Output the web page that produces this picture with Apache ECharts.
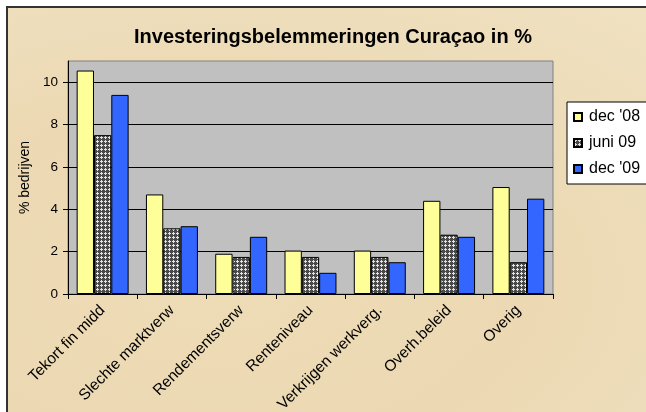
<!DOCTYPE html>
<html>
<head>
<meta charset="utf-8">
<script src="https://cdn.jsdelivr.net/npm/echarts@6/dist/echarts.min.js"></script>
<style>
html,body{margin:0;padding:0;background:#fff;overflow:hidden;width:646px;height:412px;}
#wrap{position:absolute;left:0;top:0;width:646px;height:412px;overflow:hidden;background:#fff;}
#frame{position:absolute;left:6px;top:6px;width:700px;height:460px;border-left:2px solid #333;border-top:2px solid #333;
background:radial-gradient(ellipse at 30% 60%, #eedcb6 0%, #ecd9b3 45%, #f0e2c3 100%);}
#chart{position:absolute;left:0;top:0;width:646px;height:412px;}
</style>
</head>
<body>
<div id="wrap"><div id="frame"></div><div id="chart"></div></div>
<script>
const categories = ['Tekort fin midd', 'Slechte marktverw', 'Rendementsverw', 'Renteniveau', 'Verkrijgen werkverg.', 'Overh.beleid', 'Overig'];
const dec08 = [10.55, 4.7, 1.9, 2.05, 2.05, 4.4, 5.05];
const juni09 = [7.5, 3.1, 1.75, 1.75, 1.75, 2.8, 1.5];
const dec09 = [9.4, 3.2, 2.7, 1.0, 1.5, 2.7, 4.5];
const seriesNames = ["dec '08", 'juni 09', "dec '09"];
const yTicks = [0, 2, 4, 6, 8, 10];

// hatch pattern tile
const tile = document.createElement('canvas');
tile.width = 4; tile.height = 4;
const tc = tile.getContext('2d');
tc.fillStyle = '#4a4a4a'; tc.fillRect(0, 0, 4, 4);
tc.fillStyle = '#e2e2e2';
[[1,0],[0,1],[1,1],[2,1],[1,2]].forEach(p => tc.fillRect(p[0], p[1], 1, 1));

const font = 'Liberation Sans, Arial, sans-serif';
const chart = echarts.init(document.getElementById('chart'), null, {renderer: 'canvas'});
chart.setOption({
  animation: false,
  backgroundColor: 'transparent',
  textStyle: {fontFamily: font},
  title: {
    text: 'Investeringsbelemmeringen Curaçao in %',
    left: 328, top: 22, textAlign: 'center',
    textStyle: {fontSize: 20, fontWeight: 'bold', color: '#000', fontFamily: font}
  },
  legend: {
    orient: 'vertical', left: 567, top: 102,
    data: seriesNames,
    itemWidth: 8, itemHeight: 8, itemGap: 10,
    padding: [7, 7, 7, 6],
    backgroundColor: '#fff', borderColor: '#000', borderWidth: 1,
    icon: 'rect',
    textStyle: {fontSize: 16, color: '#000', fontFamily: font, lineHeight: 16, padding: [0, 0, 0, 2]}
  },
  grid: {left: 68, right: 93, top: 61, bottom: 118, containLabel: false, outerBoundsMode: 'none',
    show: true, backgroundColor: '#c0c0c0', borderColor: '#808080', borderWidth: 1},
  xAxis: {
    type: 'category', data: categories,
    axisLine: {lineStyle: {color: '#000', width: 1}},
    axisTick: {show: true, length: 5, alignWithLabel: false, lineStyle: {color: '#000'}},
    axisLabel: {rotate: 45, fontSize: 15.5, color: '#000', margin: 14, interval: 0, fontFamily: font},
    splitLine: {show: false}
  },
  yAxis: {
    type: 'value', min: 0, max: 11, interval: 2,
    name: '% bedrijven', nameLocation: 'middle', nameGap: 33,
    nameTextStyle: {fontSize: 14, color: '#000', fontFamily: font},
    axisLine: {show: true, lineStyle: {color: '#000'}},
    axisTick: {show: true, length: 5, lineStyle: {color: '#000'}},
    axisLabel: {fontSize: 13.5, color: '#000', margin: 10, showMaxLabel: false, fontFamily: font,
      formatter: v => yTicks.indexOf(v) >= 0 ? String(v) : ''},
    splitLine: {show: true, showMaxLine: false, lineStyle: {color: '#000', width: 1}}
  },
  series: [
    {name: seriesNames[0], type: 'bar', data: dec08, barGap: '0%', barCategoryGap: '25%',
     itemStyle: {color: '#ffff99', borderColor: '#000', borderWidth: 1}},
    {name: seriesNames[1], type: 'bar', data: juni09, barGap: '0%', barCategoryGap: '25%',
     itemStyle: {color: {image: tile, repeat: 'repeat'}, borderColor: '#000', borderWidth: 1}},
    {name: seriesNames[2], type: 'bar', data: dec09, barGap: '0%', barCategoryGap: '25%',
     itemStyle: {color: '#3366ff', borderColor: '#000', borderWidth: 1}}
  ]
});
</script>
</body>
</html>
